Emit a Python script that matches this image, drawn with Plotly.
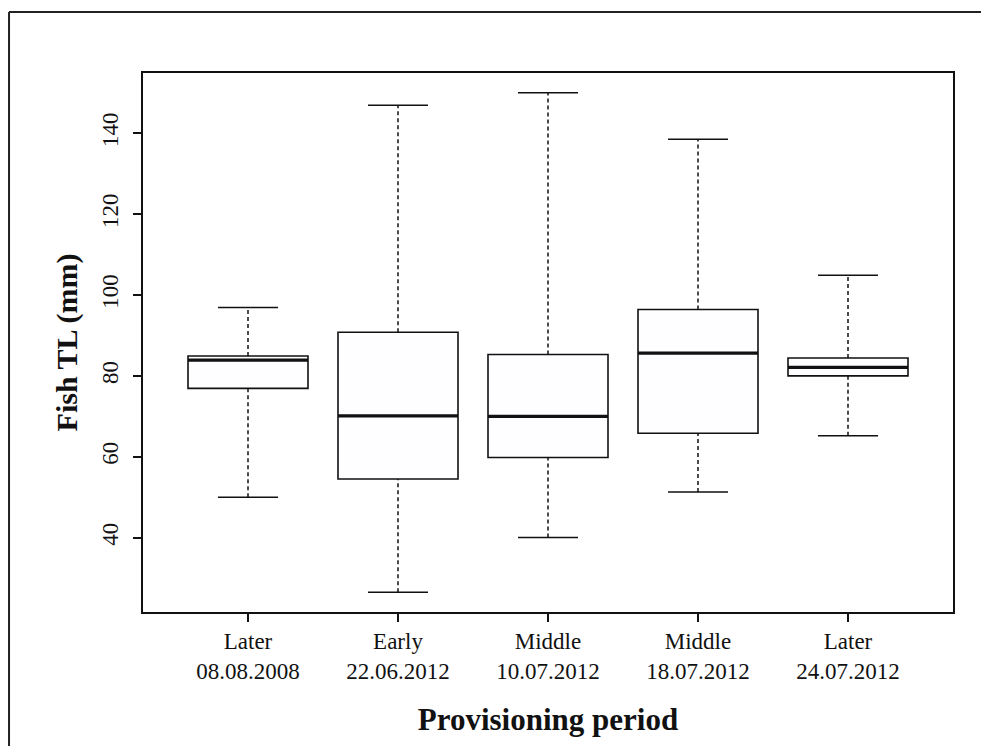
import plotly.graph_objects as go

# ---- data ----
categories = ["Later<br>08.08.2008", "Early<br>22.06.2012", "Middle<br>10.07.2012",
              "Middle<br>18.07.2012", "Later<br>24.07.2012"]
positions = [1, 2, 3, 4, 5]
lower_whisker = [50.0, 26.5, 40.0, 51.3, 65.2]
q1_vals = [76.9, 54.5, 59.8, 65.8, 80.0]
median_vals = [83.9, 70.1, 70.0, 85.6, 82.1]
q3_vals = [84.9, 90.8, 85.3, 96.4, 84.4]
upper_whisker = [96.9, 146.9, 150.0, 138.5, 104.9]
y_ticks = [40, 60, 80, 100, 120, 140]

BOX_W = 0.8
CAP_HALF = 0.2
FONT = "Liberation Serif"
INK = "#111111"

fig = go.Figure()

# whiskers (dashed)
wx, wy = [], []
for p, lo, a, b, hi in zip(positions, lower_whisker, q1_vals, q3_vals, upper_whisker):
    wx += [p, p, None, p, p, None]
    wy += [b, hi, None, lo, a, None]
fig.add_trace(go.Scatter(x=wx, y=wy, mode="lines", hoverinfo="skip", showlegend=False,
                         line=dict(color=INK, width=1.5, dash="4px,3px")))

# caps (staples)
cx, cy = [], []
for p, lo, hi in zip(positions, lower_whisker, upper_whisker):
    cx += [p - CAP_HALF, p + CAP_HALF, None, p - CAP_HALF, p + CAP_HALF, None]
    cy += [hi, hi, None, lo, lo, None]
fig.add_trace(go.Scatter(x=cx, y=cy, mode="lines", hoverinfo="skip", showlegend=False,
                         line=dict(color=INK, width=1.5)))

# boxes
fig.add_trace(go.Box(x=positions, q1=q1_vals, median=median_vals, q3=q3_vals,
                     lowerfence=q1_vals, upperfence=q3_vals, width=BOX_W,
                     whiskerwidth=0, fillcolor="#fefdff",
                     line=dict(color=INK, width=1.6), boxpoints=False,
                     showlegend=False, hoverinfo="skip"))

# medians (thick)
mx, my = [], []
for p, m in zip(positions, median_vals):
    mx += [p - BOX_W / 2, p + BOX_W / 2, None]
    my += [m, m, None]
fig.add_trace(go.Scatter(x=mx, y=my, mode="lines", hoverinfo="skip", showlegend=False,
                         line=dict(color=INK, width=3.2)))

fig.update_layout(
    width=981, height=746,
    margin=dict(l=143, r=28, t=73, b=134),
    paper_bgcolor="white", plot_bgcolor="white",
    font=dict(family=FONT, color=INK, size=23),
    boxmode="overlay",
    shapes=[
        dict(type="line", xref="paper", yref="paper",
             x0=-0.1654, x1=-0.1654, y0=-0.26, y1=1.1131,
             line=dict(color="#222222", width=2)),
        dict(type="line", xref="paper", yref="paper",
             x0=-0.1654, x1=1.04, y0=1.1131, y1=1.1131,
             line=dict(color="#222222", width=2)),
    ],
)

fig.update_xaxes(range=[0.3, 5.7], tickmode="array", tickvals=positions, ticktext=categories,
                 showline=True, linecolor=INK, linewidth=1.6, mirror=True,
                 ticks="outside", ticklen=8, tickwidth=1.5, tickcolor=INK,
                 showgrid=False, zeroline=False,
                 tickfont=dict(family=FONT, size=23, color=INK),
                 title=dict(text="<b>Provisioning period</b>", standoff=25,
                            font=dict(family=FONT, size=31, color=INK)))

fig.update_yaxes(range=[21.6, 154.9], tickmode="array", tickvals=y_ticks,
                 showline=True, linecolor=INK, linewidth=1.6, mirror=True,
                 ticks="outside", ticklen=8, tickwidth=1.5, tickcolor=INK,
                 showgrid=False, zeroline=False, tickangle=-90, ticklabelstandoff=6,
                 tickfont=dict(family=FONT, size=23, color=INK),
                 title=dict(text="<b>Fish TL (mm)</b>", standoff=12,
                            font=dict(family=FONT, size=30, color=INK)))

fig.write_html("out.html")
